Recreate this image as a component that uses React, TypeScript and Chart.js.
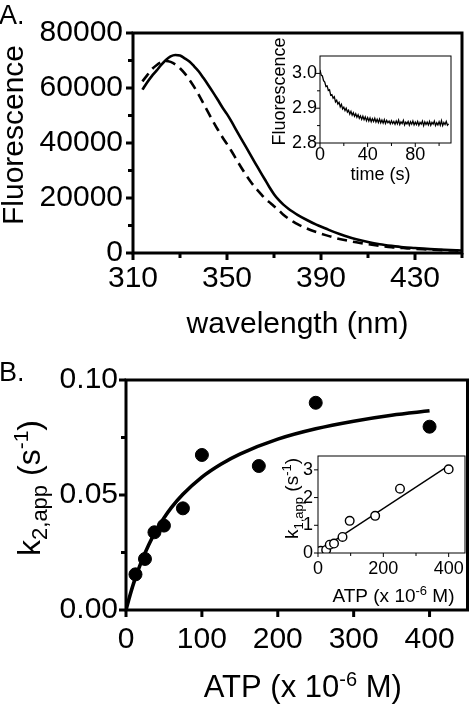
import React, { useEffect, useRef } from "react";
import { Chart, registerables } from "chart.js";

Chart.register(...registerables);

const FONT = "'Liberation Sans', Arial, Helvetica, sans-serif";

// ---------- Panel A: emission spectra ----------
const aWavelength = [
  314, 316, 318, 320, 322, 324, 326, 328, 330, 332, 334, 336, 338, 340, 342, 344, 346, 348, 350, 352,
  354, 356, 358, 360, 362, 364, 366, 368, 370, 372, 374, 376, 378, 380, 384, 388, 392, 396, 400, 405,
  410, 415, 420, 425, 430, 435, 440, 445, 450,
];
const aSolid = [
  59400, 62000, 64300, 66300, 68400, 70200, 71500, 72000, 71800, 70800, 69600, 67900, 66000, 63600,
  61100, 58500, 55800, 53000, 50500, 47700, 44600, 41600, 38700, 35700, 32700, 29800, 26900, 24000,
  21400, 19300, 17600, 16200, 15000, 13900, 12000, 10300, 8900, 7500, 6300, 5000, 4000, 3200, 2600,
  2100, 1800, 1500, 1300, 1100, 900,
];
const aDashed = [
  62400, 64600, 66800, 68300, 69400, 69800, 69500, 68600, 67200, 65300, 63000, 60400, 57500, 54300,
  51100, 48000, 45000, 42200, 39600, 36900, 34000, 31200, 28500, 26000, 23800, 21900, 20000, 18500,
  17000, 15600, 13900, 12600, 11500, 10500, 8900, 7600, 6500, 5500, 4700, 3900, 3200, 2600, 2100,
  1800, 1500, 1300, 1100, 950, 800,
];
const aXTicks = [310, 350, 390, 430];
const aXTickLabels = ["310", "350", "390", "430"];
const aXMinor = [330, 370, 410, 450];
const aYTicks = [0, 20000, 40000, 60000, 80000];
const aYTickLabels = ["0", "20000", "40000", "60000", "80000"];
const aYMinor = [10000, 30000, 50000, 70000];

// ---------- Panel A inset: time trace ----------
const insATime = [
  0, 1, 2, 3, 4, 5, 6, 7, 8, 9, 10, 11, 12, 13, 14, 15, 16, 17, 18, 19, 20, 21, 22, 23, 24, 25, 26, 27,
  28, 29, 30, 31, 32, 33, 34, 35, 36, 37, 38, 39, 40, 41, 42, 43, 44, 45, 46, 47, 48, 49, 50, 51, 52,
  53, 54, 55, 56, 57, 58, 59, 60, 61, 62, 63, 64, 65, 66, 67, 68, 69, 70, 71, 72, 73, 74, 75, 76, 77,
  78, 79, 80, 81, 82, 83, 84, 85, 86, 87, 88, 89, 90, 91, 92, 93, 94, 95, 96, 97, 98, 99, 100, 101,
  102, 103, 104, 105, 106, 107, 108,
];
const insAFluor = [
  3.010, 2.995, 2.993, 2.979, 2.975, 2.962, 2.964, 2.951, 2.953, 2.937, 2.939, 2.929, 2.933, 2.918,
  2.923, 2.912, 2.917, 2.904, 2.911, 2.898, 2.903, 2.893, 2.900, 2.889, 2.894, 2.883, 2.891, 2.880,
  2.887, 2.877, 2.884, 2.874, 2.881, 2.871, 2.878, 2.868, 2.877, 2.867, 2.875, 2.864, 2.873, 2.863,
  2.872, 2.861, 2.870, 2.862, 2.871, 2.860, 2.868, 2.859, 2.869, 2.858, 2.866, 2.857, 2.867, 2.856,
  2.865, 2.858, 2.863, 2.855, 2.864, 2.856, 2.862, 2.854, 2.863, 2.855, 2.866, 2.853, 2.861, 2.856,
  2.865, 2.852, 2.860, 2.855, 2.862, 2.851, 2.861, 2.854, 2.863, 2.852, 2.860, 2.853, 2.862, 2.851,
  2.859, 2.854, 2.863, 2.850, 2.861, 2.853, 2.860, 2.852, 2.862, 2.851, 2.859, 2.854, 2.863, 2.850,
  2.858, 2.852, 2.861, 2.851, 2.864, 2.850, 2.859, 2.853, 2.862, 2.851, 2.855,
];
const insAXTicks = [0, 40, 80];
const insAXTickLabels = ["0", "40", "80"];
const insAXMinor = [20, 60, 100];
const insAYTicks = [2.8, 2.9, 3.0];
const insAYTickLabels = ["2.8", "2.9", "3.0"];
const insAYMinor = [2.85, 2.95];

// ---------- Panel B: k2,app vs ATP ----------
const bATP = [12.5, 25, 37.5, 50, 75, 100, 175, 250, 400];
const bK2 = [0.0155, 0.0222, 0.0338, 0.0367, 0.0442, 0.0674, 0.0626, 0.0901, 0.0797];
const bFitATP = [0, 5, 10, 20, 30, 40, 50, 60, 75, 100, 125, 150, 200, 250, 300, 350, 400];
const bFitK2 = [
  0, 0.0061, 0.0116, 0.0208, 0.0284, 0.0347, 0.04, 0.0446, 0.0503, 0.0578, 0.0634, 0.0678, 0.0743,
  0.0788, 0.0821, 0.0847, 0.0866,
];
const bXTicks = [0, 100, 200, 300, 400];
const bXTickLabels = ["0", "100", "200", "300", "400"];
const bYTicks = [0, 0.05, 0.1];
const bYTickLabels = ["0.00", "0.05", "0.10"];
const bYMinor = [0.025, 0.075];

// ---------- Panel B inset: k1,app vs ATP ----------
const insBATP = [8, 25, 36, 49, 75, 97, 175, 251, 400];
const insBK1 = [0.08, 0.11, 0.3, 0.34, 0.58, 1.16, 1.34, 2.32, 3.02];
const insBFitATP = [0, 400];
const insBFitK1 = [0.06, 3.15];
const insBXTicks = [0, 200, 400];
const insBXTickLabels = ["0", "200", "400"];
const insBXMinor = [100, 300];
const insBYTicks = [0, 1, 2, 3];
const insBYTickLabels = ["0", "1", "2", "3"];

type Seg = { text: string; size: number; dy: number };
type Title = { segs: Seg[]; axis: "x" | "y"; off: number; shift: number };
type Marks = { axis: "x" | "y"; values: number[]; len: number; width: number };

function drawRich(ctx: CanvasRenderingContext2D, segs: Seg[], cx: number, cy: number, rotate: boolean) {
  ctx.save();
  ctx.translate(cx, cy);
  if (rotate) ctx.rotate(-Math.PI / 2);
  ctx.textBaseline = "alphabetic";
  ctx.textAlign = "left";
  ctx.fillStyle = "#000";
  let total = 0;
  const widths = segs.map((s) => {
    ctx.font = `${s.size}px ${FONT}`;
    const w = ctx.measureText(s.text).width;
    total += w;
    return w;
  });
  let x = -total / 2;
  segs.forEach((s, i) => {
    ctx.font = `${s.size}px ${FONT}`;
    ctx.fillText(s.text, x, s.dy);
    x += widths[i];
  });
  ctx.restore();
}

const decoPlugin = {
  id: "deco",
  afterDraw(chart: any, _args: any, opts: any) {
    const { ctx, chartArea: a, scales } = chart;
    ctx.save();
    ctx.strokeStyle = "#000";
    ctx.lineCap = "butt";
    (opts.marks || []).forEach((m: Marks) => {
      const s = scales[m.axis];
      ctx.lineWidth = m.width;
      m.values.forEach((v) => {
        const p = s.getPixelForValue(v);
        ctx.beginPath();
        if (m.axis === "x") {
          ctx.moveTo(p, a.bottom);
          ctx.lineTo(p, a.bottom + m.len);
        } else {
          ctx.moveTo(a.left, p);
          ctx.lineTo(a.left - m.len, p);
        }
        ctx.stroke();
      });
    });
    ctx.lineWidth = opts.frameWidth;
    ctx.strokeRect(a.left, a.top, a.right - a.left, a.bottom - a.top);
    (opts.titles || []).forEach((t: Title) => {
      if (t.axis === "x") {
        drawRich(ctx, t.segs, (a.left + a.right) / 2 + t.shift, a.bottom + t.off, false);
      } else {
        drawRich(ctx, t.segs, a.left - t.off, (a.top + a.bottom) / 2 + t.shift, true);
      }
    });
    if (opts.panel) {
      ctx.font = `${opts.panel.size}px ${FONT}`;
      ctx.fillStyle = "#000";
      ctx.textBaseline = "alphabetic";
      ctx.textAlign = "left";
      ctx.fillText(opts.panel.text, opts.panel.x, opts.panel.y);
    }
    ctx.restore();
  },
};

function axis(o: {
  min: number;
  max: number;
  ticks: number[];
  labels: string[];
  size: number;
  padding: number;
  fit: number;
  isX: boolean;
}) {
  return {
    type: "linear",
    min: o.min,
    max: o.max,
    afterBuildTicks: (s: any) => {
      s.ticks = o.ticks.map((v) => ({ value: v }));
    },
    afterFit: (s: any) => {
      if (o.isX) s.height = o.fit;
      else s.width = o.fit;
    },
    grid: { display: false, drawTicks: false },
    border: { display: false },
    ticks: {
      autoSkip: false,
      maxRotation: 0,
      minRotation: 0,
      padding: o.padding,
      color: "#000",
      font: { family: FONT, size: o.size },
      callback: (_v: any, i: number) => o.labels[i],
    },
  };
}

function baseOptions(padding: any, scales: any, deco: any) {
  return {
    responsive: false,
    animation: false,
    devicePixelRatio: 1,
    events: [],
    layout: { padding },
    scales,
    plugins: { legend: { display: false }, tooltip: { enabled: false }, title: { display: false }, deco },
  };
}

const zip = (xs: number[], ys: number[]) => xs.map((x, i) => ({ x, y: ys[i] }));

function ChartBox(props: { left: number; top: number; width: number; height: number; config: () => any }) {
  const ref = useRef<HTMLCanvasElement | null>(null);
  useEffect(() => {
    if (!ref.current) return;
    const chart = new Chart(ref.current, { ...props.config(), plugins: [decoPlugin] } as any);
    return () => chart.destroy();
  }, []);
  return (
    <canvas
      ref={ref}
      width={props.width}
      height={props.height}
      style={{ position: "absolute", left: props.left, top: props.top, width: props.width, height: props.height }}
    />
  );
}

const mainA = () => ({
  type: "line",
  data: {
    datasets: [
      {
        data: zip(aWavelength, aSolid),
        borderColor: "#000",
        borderWidth: 2.6,
        pointRadius: 0,
        cubicInterpolationMode: "monotone",
      },
      {
        data: zip(aWavelength, aDashed),
        borderColor: "#000",
        borderWidth: 2.6,
        borderDash: [10, 6],
        pointRadius: 0,
        cubicInterpolationMode: "monotone",
      },
    ],
  },
  options: baseOptions(
    { left: 0, top: 33, right: 13, bottom: 0 },
    {
      x: axis({ min: 310, max: 450, ticks: aXTicks, labels: aXTickLabels, size: 30, padding: 8, fit: 97, isX: true }),
      y: axis({ min: 0, max: 80000, ticks: aYTicks, labels: aYTickLabels, size: 30, padding: 10, fit: 133, isX: false }),
    },
    {
      frameWidth: 3,
      marks: [
        { axis: "x", values: aXTicks, len: 7, width: 3 },
        { axis: "x", values: aXMinor, len: 5, width: 3 },
        { axis: "y", values: aYTicks, len: 7, width: 3 },
        { axis: "y", values: aYMinor, len: 5, width: 3 },
      ],
      titles: [
        { axis: "y", off: 110, shift: -8, segs: [{ text: "Fluorescence", size: 30, dy: 0 }] },
        { axis: "x", off: 80, shift: 0, segs: [{ text: "wavelength (nm)", size: 30, dy: 0 }] },
      ],
      panel: { text: "A.", size: 27, x: -1, y: 24 },
    }
  ),
});

const insetA = () => ({
  type: "line",
  data: {
    datasets: [
      {
        data: zip(insATime, insAFluor),
        borderColor: "#000",
        borderWidth: 1.3,
        pointRadius: 0,
        tension: 0,
      },
    ],
  },
  options: baseOptions(
    { left: 0, top: 36, right: 19, bottom: 0 },
    {
      x: axis({ min: 0, max: 110, ticks: insAXTicks, labels: insAXTickLabels, size: 18, padding: 1, fit: 57, isX: true }),
      y: axis({ min: 2.8, max: 3.05, ticks: insAYTicks, labels: insAYTickLabels, size: 18, padding: 3, fit: 80, isX: false }),
    },
    {
      frameWidth: 1,
      marks: [
        { axis: "x", values: insAXTicks, len: 4, width: 1 },
        { axis: "x", values: insAXMinor, len: 3, width: 1 },
        { axis: "y", values: insAYTicks, len: 4, width: 1 },
        { axis: "y", values: insAYMinor, len: 3, width: 1 },
      ],
      titles: [
        { axis: "y", off: 35, shift: -8, segs: [{ text: "Fluorescence", size: 18, dy: 0 }] },
        { axis: "x", off: 37, shift: -5, segs: [{ text: "time (s)", size: 18, dy: 0 }] },
      ],
    }
  ),
});

const mainB = () => ({
  type: "scatter",
  data: {
    datasets: [
      {
        data: zip(bATP, bK2),
        backgroundColor: "#000",
        borderColor: "#000",
        pointRadius: 6.5,
        showLine: false,
        order: 0,
      },
      {
        data: zip(bFitATP, bFitK2),
        borderColor: "#000",
        borderWidth: 3.6,
        pointRadius: 0,
        showLine: true,
        cubicInterpolationMode: "monotone",
        order: 1,
      },
    ],
  },
  options: baseOptions(
    { left: 0, top: 30, right: 2, bottom: 0 },
    {
      x: axis({ min: 0, max: 450, ticks: bXTicks, labels: bXTickLabels, size: 30, padding: 12, fit: 95, isX: true }),
      y: axis({ min: 0, max: 0.1, ticks: bYTicks, labels: bYTickLabels, size: 30, padding: 8, fit: 126, isX: false }),
    },
    {
      frameWidth: 3,
      marks: [
        { axis: "x", values: bXTicks, len: 7, width: 3 },
        { axis: "y", values: bYTicks, len: 7, width: 3 },
        { axis: "y", values: bYMinor, len: 5, width: 3 },
      ],
      titles: [
        {
          axis: "y",
          off: 86,
          shift: -7,
          segs: [
            { text: "k", size: 32, dy: 0 },
            { text: "2,app", size: 22, dy: 7 },
            { text: " (s", size: 32, dy: 0 },
            { text: "-1", size: 21, dy: -12 },
            { text: ")", size: 32, dy: 0 },
          ],
        },
        {
          axis: "x",
          off: 87,
          shift: 6,
          segs: [
            { text: "ATP (x 10", size: 31, dy: 0 },
            { text: "-6", size: 20, dy: -11 },
            { text: " M)", size: 31, dy: 0 },
          ],
        },
      ],
      panel: { text: "B.", size: 27, x: -1, y: 31 },
    }
  ),
});

const insetB = () => ({
  type: "scatter",
  data: {
    datasets: [
      {
        data: zip(insBATP, insBK1),
        backgroundColor: "#fff",
        borderColor: "#000",
        borderWidth: 1.4,
        pointRadius: 4.3,
        showLine: false,
        order: 0,
      },
      {
        data: zip(insBFitATP, insBFitK1),
        borderColor: "#000",
        borderWidth: 1.4,
        pointRadius: 0,
        showLine: true,
        order: 1,
      },
    ],
  },
  options: baseOptions(
    { left: 0, top: 26, right: 10, bottom: 0 },
    {
      x: axis({ min: 0, max: 450, ticks: insBXTicks, labels: insBXTickLabels, size: 18, padding: 5, fit: 62, isX: true }),
      y: axis({ min: 0, max: 3.5, ticks: insBYTicks, labels: insBYTickLabels, size: 18, padding: 5, fit: 78, isX: false }),
    },
    {
      frameWidth: 1,
      marks: [
        { axis: "x", values: insBXTicks, len: 4, width: 1 },
        { axis: "x", values: insBXMinor, len: 3, width: 1 },
        { axis: "y", values: insBYTicks, len: 4, width: 1 },
      ],
      titles: [
        {
          axis: "y",
          off: 20,
          shift: -6,
          segs: [
            { text: "k", size: 19, dy: 0 },
            { text: "1,app", size: 13, dy: 4.5 },
            { text: " (s", size: 19, dy: 0 },
            { text: "-1", size: 13, dy: -7.5 },
            { text: ")", size: 19, dy: 0 },
          ],
        },
        {
          axis: "x",
          off: 49,
          shift: 2,
          segs: [
            { text: "ATP (x 10", size: 19, dy: 0 },
            { text: "-6", size: 13, dy: -7 },
            { text: " M)", size: 19, dy: 0 },
          ],
        },
      ],
    }
  ),
});

export default function App() {
  return (
    <div style={{ position: "absolute", left: 0, top: 0, width: 475, height: 705, background: "#fff", overflow: "hidden" }}>
      <ChartBox left={0} top={0} width={475} height={350} config={mainA} />
      <ChartBox left={240} top={20} width={230} height={180} config={insetA} />
      <ChartBox left={0} top={350} width={475} height={355} config={mainB} />
      <ChartBox left={240} top={430} width={235} height={185} config={insetB} />
    </div>
  );
}
